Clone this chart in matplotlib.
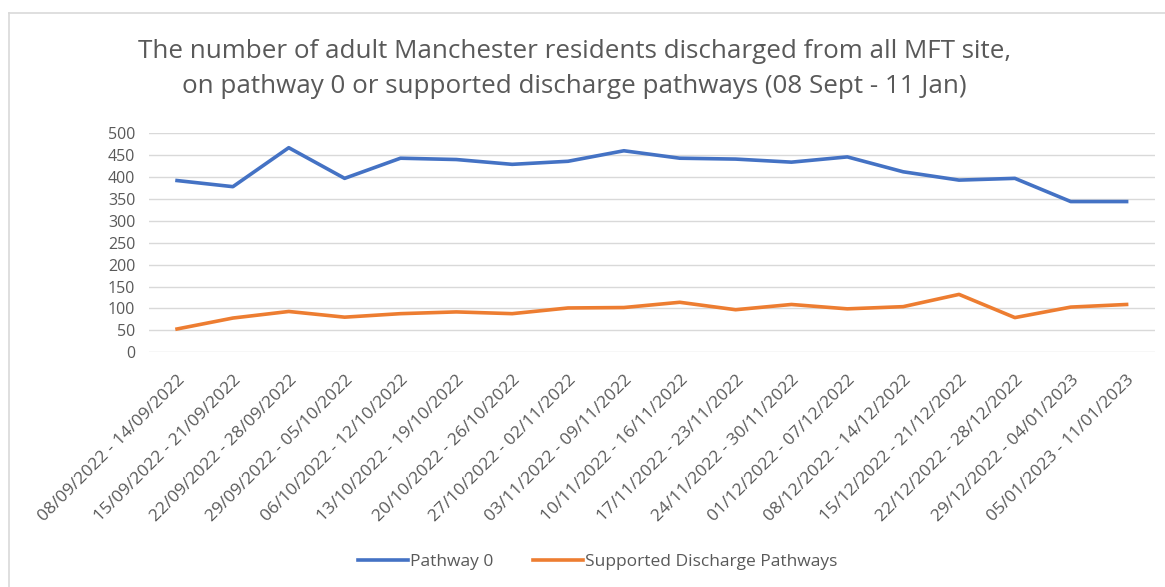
import matplotlib
matplotlib.use("Agg")
import numpy as np
from matplotlib import pyplot as plt
from matplotlib.lines import Line2D

plt.rcParams['font.family'] = ['Open Sans', 'DejaVu Sans']

weeks = [
    "08/09/2022 - 14/09/2022", "15/09/2022 - 21/09/2022", "22/09/2022 - 28/09/2022",
    "29/09/2022 - 05/10/2022", "06/10/2022 - 12/10/2022", "13/10/2022 - 19/10/2022",
    "20/10/2022 - 26/10/2022", "27/10/2022 - 02/11/2022", "03/11/2022 - 09/11/2022",
    "10/11/2022 - 16/11/2022", "17/11/2022 - 23/11/2022", "24/11/2022 - 30/11/2022",
    "01/12/2022 - 07/12/2022", "08/12/2022 - 14/12/2022", "15/12/2022 - 21/12/2022",
    "22/12/2022 - 28/12/2022", "29/12/2022 - 04/01/2023", "05/01/2023 - 11/01/2023",
]
pathway0 = [392, 378, 467, 397, 443, 440, 429, 436, 460, 443, 441, 434, 446, 412, 393, 397, 344, 344]
supported = [53, 78, 93, 80, 88, 92, 88, 101, 102, 114, 97, 109, 99, 104, 132, 79, 103, 109]

title = ("The number of adult Manchester residents discharged from all MFT site,\n"
         "on pathway 0 or supported discharge pathways (08 Sept - 11 Jan)")

BLUE = "#4472C4"
ORANGE = "#ED7D31"
GREY = "#595959"

fig = plt.figure(figsize=(11.65, 5.87), dpi=100)
ax = fig.add_axes([0.128, 0.40, 0.863, 0.373])

x = np.arange(len(weeks))
ax.plot(x, pathway0, color=BLUE, lw=2.6, solid_joinstyle="round", label="Pathway 0")
ax.plot(x, supported, color=ORANGE, lw=2.6, solid_joinstyle="round",
        label="Supported Discharge Pathways")

ax.set_xlim(-0.5, len(weeks) - 0.5)
ax.set_ylim(0, 500)
ax.set_yticks(range(0, 501, 50))
ax.grid(axis="y", color="#D9D9D9", lw=1)
ax.set_axisbelow(True)
for s in ax.spines.values():
    s.set_visible(False)
ax.tick_params(axis="y", length=0, labelsize=11.5, labelcolor=GREY, pad=10)
ax.tick_params(axis="x", length=0, labelsize=12.5, labelcolor=GREY, pad=14)
ax.set_xticks(x)
ax.set_xticklabels(weeks, rotation=45, ha="right", rotation_mode="anchor")

fig.text(0.493, 0.882, title, ha="center", va="center", fontsize=18.7,
         color=GREY, linespacing=1.55)

handles = [Line2D([], [], color=BLUE, lw=2.6), Line2D([], [], color=ORANGE, lw=2.6)]
fig.legend(handles, ["Pathway 0", "Supported Discharge Pathways"], loc="center",
           bbox_to_anchor=(0.513, 0.043), ncol=2, frameon=False, fontsize=12.5,
           labelcolor=GREY, handlelength=2.9, handletextpad=0.1, columnspacing=2.3)

# chart frame (top and left edges visible)
fig.add_artist(Line2D([9 / 1165, 1], [1 - 13 / 587, 1 - 13 / 587],
                      transform=fig.transFigure, color="#D9D9D9", lw=1.2))
fig.add_artist(Line2D([9 / 1165, 9 / 1165], [0, 1 - 13 / 587],
                      transform=fig.transFigure, color="#D9D9D9", lw=1.2))

fig.savefig("out.png", dpi=100)
